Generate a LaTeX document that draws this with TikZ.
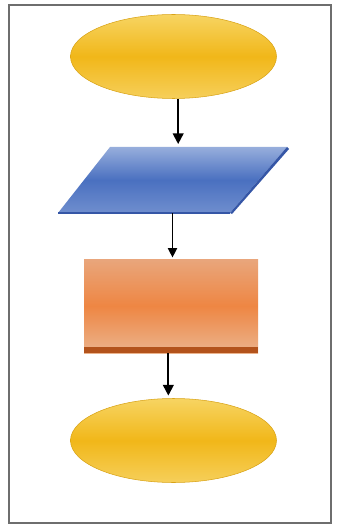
\documentclass[tikz,border=0pt]{standalone}
\usetikzlibrary{shapes.geometric,arrows.meta}
\definecolor{ylight}{HTML}{F7D462}
\definecolor{ymid}{HTML}{F1B719}
\definecolor{ybot}{HTML}{F6CF5A}
\definecolor{yedge}{HTML}{D9A316}
\definecolor{blight}{HTML}{97AEDC}
\definecolor{bmid}{HTML}{4A70C0}
\definecolor{bbot}{HTML}{6F8ECE}
\definecolor{bedge}{HTML}{3556A6}
\definecolor{olight}{HTML}{E9A67C}
\definecolor{omid}{HTML}{EE8643}
\definecolor{obot}{HTML}{EBB38C}
\definecolor{oband}{HTML}{B3531C}
\definecolor{framec}{HTML}{6E6E6E}
\tikzset{
  terminal/.style={ellipse, inner sep=0pt, minimum width=154.5pt, minimum height=63pt,
    top color=ylight, bottom color=ybot, middle color=ymid, draw=yedge, line width=0.4pt},
  iobox/.style={rectangle, inner sep=0pt, minimum width=171.75pt, minimum height=49.5pt, draw=none},
  procbox/.style={rectangle, inner sep=0pt, minimum width=130.5pt, minimum height=70.5pt,
    top color=olight, bottom color=obot, middle color=omid,
    path picture={\fill[oband] (path picture bounding box.south west) rectangle ([yshift=4.5pt]path picture bounding box.south east);}},
  flow/.style={draw=black, line width=1.4pt, shorten >=2pt, -{Triangle[width=8pt,length=8pt]}},
  thinflow/.style={draw=black, line width=0.9pt, shorten >=1pt, -{Triangle[width=7pt,length=7pt]}}
}
\begin{document}
\begin{tikzpicture}[x=0.75pt,y=-0.75pt]
\fill[white] (0,0) rectangle (336,527);
\useasboundingbox (0,0) rectangle (336,527);
\draw[framec, line width=1.1pt] (9,5) rectangle (331,523);
% start terminal
\node[terminal] (start) at (173.5,56.5) {};
% parallelogram (input/output)
\shade[top color=blight, bottom color=bbot, middle color=bmid]
  (110,147) -- (287,147) -- (230,213) -- (58,213) -- cycle;
\fill[bedge] (287,147) -- (289,149) -- (232,214) -- (230,213) -- cycle;
\draw[bedge, line width=0.8pt] (58,213) -- (230,213);
\node[iobox] (io) at (172.5,180) {};
% process
\node[procbox] (proc) at (171,306) {};
% end terminal
\node[terminal] (stop) at (173.5,440.5) {};
% connectors
\draw[flow] ([xshift=3.5pt]start.south) -- ([xshift=3.5pt]start.south |- io.north);
\draw[thinflow] ([xshift=0pt]io.south) -- ([xshift=0pt]io.south |- proc.north);
\draw[flow] ([xshift=-2pt]proc.south) -- ([xshift=-2pt]proc.south |- stop.north);
\end{tikzpicture}
\end{document}
